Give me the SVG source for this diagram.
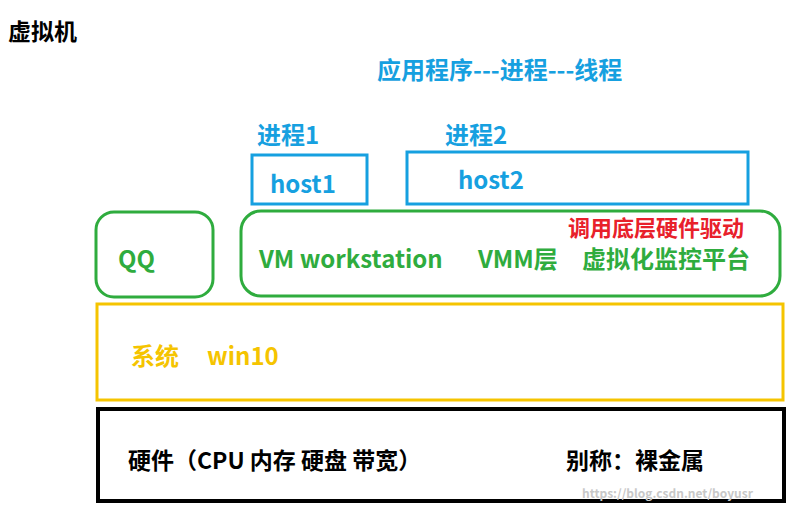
<svg xmlns="http://www.w3.org/2000/svg" width="793" height="511" viewBox="0 0 793 511">
<style>
text{font-family:"Noto Sans CJK SC","Noto Sans",sans-serif;font-weight:bold}
.b{fill:#16a0e0;font-size:24px}
.g{fill:#2fac3e;font-size:24px}
.y{fill:#f5c400;font-size:24px}
.k{fill:#000;font-size:23px}
.bx{fill:none;stroke-width:3}
</style>
<rect width="793" height="511" fill="#fff"/>
<text x="8" y="40" class="k" font-size="22">虚拟机</text>
<text x="377" y="79" class="b">应用程序---进程---线程</text>
<g id="host1"><text x="257" y="144" class="b" font-size="23">进程1</text><rect x="252" y="155" width="115" height="49" class="bx" stroke="#16a0e0"/><text x="270" y="193" class="b" font-size="23">host1</text></g>
<g id="host2"><text x="445" y="144" class="b" font-size="23">进程2</text><rect x="407" y="152" width="341" height="52" class="bx" stroke="#16a0e0"/><text x="458" y="189" class="b" font-size="23">host2</text></g>
<g id="qq"><rect x="96" y="212" width="117" height="85" rx="18" class="bx" stroke="#2fac3e"/><text x="118" y="268" class="g">QQ</text></g>
<g id="vm"><rect x="241" y="211" width="539" height="85" rx="20" class="bx" stroke="#2fac3e"/>
<text x="568" y="236" fill="#e8202a" font-size="22">调用底层硬件驱动</text>
<text x="259" y="268" class="g">VM workstation</text><text x="478" y="268" class="g">VMM层</text><text x="582" y="268" class="g">虚拟化监控平台</text></g>
<g id="sys"><rect x="97" y="304" width="686" height="96" class="bx" stroke="#f5c400"/><text x="131" y="365" class="y">系统</text><text x="207" y="365" class="y">win10</text></g>
<g id="hw"><rect x="98" y="409" width="686" height="92" fill="none" stroke="#000" stroke-width="4"/><text x="128" y="469" class="k">硬件（CPU 内存 硬盘 带宽）</text><text x="566" y="469" class="k">别称：裸金属</text></g>
<g id="connectors"></g>
<text x="582" y="498" fill="#c8c8c8" font-size="12" font-weight="normal">https://blog.csdn.net/boyusr</text>
</svg>
